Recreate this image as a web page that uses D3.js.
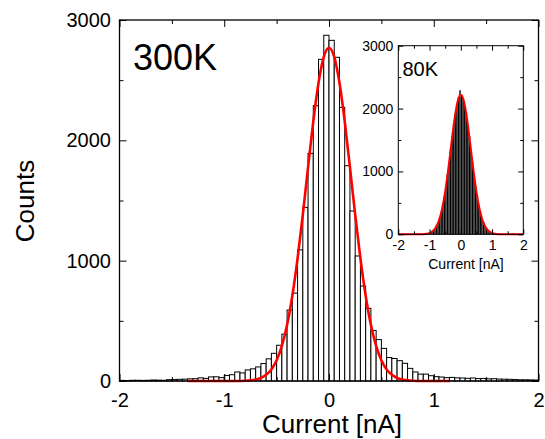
<!DOCTYPE html>
<html>
<head>
<meta charset="utf-8">
<script src="https://cdn.jsdelivr.net/npm/d3@7"></script>
<style>
  html, body { margin: 0; padding: 0; background: #fff; }
  svg { display: block; }
  text { font-family: "Liberation Sans", Arial, Helvetica, sans-serif; fill: #000; }
</style>
</head>
<body>
<div id="chart"></div>
<script>
// histogram bins, 0.05 nA wide, from -2 to 2 nA
const binStart = -2;
const binWidth = 0.05;

// 300K counts per bin
const counts300 = [
  5, 4, 6, 6, 5, 6, 8, 7, 6, 11,
  12, 14, 15, 18, 19, 26, 22, 34, 35, 28,
  46, 52, 75, 67, 92, 101, 117, 145, 184, 230,
  297, 389, 590, 730, 1090, 1443, 1892, 2288, 2673, 2873,
  2831, 2690, 2274, 1789, 1413, 1039, 789, 604, 420, 344,
  271, 195, 187, 169, 147, 105, 75, 57, 57, 44,
  36, 33, 28, 30, 26, 25, 22, 25, 20, 21,
  18, 19, 16, 15, 14, 12, 10, 10, 9, 8
];

// 80K counts per bin (inset)
const counts80 = [
  0, 1, 0, 1, 1, 0, 1, 2, 1, 2,
  2, 3, 3, 4, 5, 6, 7, 9, 12, 17,
  26, 40, 62, 92, 134, 188, 258, 352, 466, 600,
  765, 945, 1140, 1350, 1550, 1750, 1915, 2060, 2170, 2290,
  2200, 2155, 2050, 1925, 1740, 1555, 1340, 1135, 940, 760,
  600, 462, 348, 255, 184, 128, 88, 60, 39, 25,
  16, 10, 7, 5, 4, 3, 3, 2, 2, 1,
  1, 1, 0, 1, 0, 0, 1, 0, 0, 0
];

// red fit curves
const fit300X = [-1.35, -1.0, -0.9, -0.8, -0.75, -0.7, -0.65, -0.6, -0.55, -0.5, -0.45, -0.4, -0.35, -0.3, -0.25, -0.2, -0.15, -0.1, -0.05,
  0, 0.05, 0.1, 0.15, 0.2, 0.25, 0.3, 0.35, 0.4, 0.45, 0.5, 0.55, 0.6, 0.65, 0.7, 0.75, 0.8, 0.9, 1.0, 1.15];
const fit300Y = [0, 0, 0.3, 2, 5, 12, 25, 51, 96, 172, 291, 467, 709, 1018, 1382, 1775, 2157, 2478, 2694,
  2770, 2694, 2478, 2157, 1775, 1382, 1018, 709, 467, 291, 172, 96, 51, 25, 12, 5, 2, 0.3, 0, 0];

const fit80X = [-2, -1.6, -1.3, -1.2, -1.1, -1.0, -0.9, -0.8, -0.7, -0.6, -0.5, -0.4, -0.3, -0.2, -0.1,
  0, 0.1, 0.2, 0.3, 0.4, 0.5, 0.6, 0.7, 0.8, 0.9, 1.0, 1.1, 1.2, 1.3, 1.6, 2];
const fit80Y = [0, 0, 0, 2, 7, 19, 48, 107, 218, 403, 679, 1040, 1449, 1836, 2117,
  2220, 2117, 1836, 1449, 1040, 679, 403, 218, 107, 48, 19, 7, 2, 0, 0, 0];

const xMajor = [-2, -1, 0, 1, 2];
const xMinor = [-1.5, -0.5, 0.5, 1.5];
const yMajor = [0, 1000, 2000, 3000];
const yMinor = [500, 1500, 2500];

const width = 545, height = 439;
const svg = d3.select("#chart").append("svg")
  .attr("width", width).attr("height", height);

function drawPanel(g, opt) {
  const x = d3.scaleLinear().domain([-2, 2]).range([opt.left, opt.right]);
  const y = d3.scaleLinear().domain([0, 3000]).range([opt.bottom, opt.top]);

  g.append("rect")
    .attr("x", opt.left).attr("y", opt.top)
    .attr("width", opt.right - opt.left).attr("height", opt.bottom - opt.top)
    .attr("fill", "#fff");

  g.append("g").selectAll("rect")
    .data(opt.counts)
    .join("rect")
    .attr("x", (d, i) => x(binStart + i * binWidth))
    .attr("width", (d, i) => x(binStart + (i + 1) * binWidth) - x(binStart + i * binWidth))
    .attr("y", d => y(d))
    .attr("height", d => y(0) - y(d))
    .attr("fill", opt.barFill)
    .attr("stroke", opt.barStroke)
    .attr("stroke-width", opt.barStrokeWidth);

  const line = d3.line()
    .x(d => x(d[0])).y(d => y(d[1]))
    .curve(d3.curveMonotoneX);
  g.append("path")
    .datum(d3.zip(opt.fitX, opt.fitY))
    .attr("d", line)
    .attr("fill", "none")
    .attr("stroke", "#ff0000")
    .attr("stroke-width", opt.fitWidth);

  const fmt = d3.format("d");
  const axes = [
    [d3.axisBottom(x), xMajor, xMinor, `translate(0,${opt.bottom})`, true],
    [d3.axisTop(x), xMajor, xMinor, `translate(0,${opt.top})`, false],
    [d3.axisLeft(y), yMajor, yMinor, `translate(${opt.left},0)`, true],
    [d3.axisRight(y), yMajor, yMinor, `translate(${opt.right},0)`, false]
  ];
  axes.forEach(([ax, major, minor, tr, labels], k) => {
    const isX = k < 2;
    const a = g.append("g").attr("transform", tr)
      .call(ax.tickValues(major).tickSizeInner(-opt.major).tickSizeOuter(0)
        .tickPadding(isX ? opt.xPad : opt.yPad)
        .tickFormat(labels ? (isX ? d => String(d) : fmt) : ""));
    a.select(".domain").remove();
    a.selectAll("line").attr("stroke", "#000").attr("stroke-width", 1);
    a.selectAll("text").style("font-size", opt.tickFont + "px")
      .style("font-family", '"Liberation Sans", Arial, sans-serif');
    const m = g.append("g").attr("transform", tr)
      .call(ax.tickValues(minor).tickSizeInner(-opt.minor).tickFormat(""));
    m.select(".domain").remove();
    m.selectAll("line").attr("stroke", "#000").attr("stroke-width", 1);
  });

  g.append("rect")
    .attr("x", opt.left).attr("y", opt.top)
    .attr("width", opt.right - opt.left).attr("height", opt.bottom - opt.top)
    .attr("fill", "none").attr("stroke", "#000").attr("stroke-width", opt.frame);

  return { x, y };
}

// main 300K panel
drawPanel(svg.append("g"), {
  left: 119.5, right: 538.5, top: 20, bottom: 381,
  counts: counts300, barFill: "#fff", barStroke: "#000", barStrokeWidth: 1,
  fitX: fit300X, fitY: fit300Y, fitWidth: 2.6,
  major: 7, minor: 4, xPad: 12, yPad: 8.5, tickFont: 20, frame: 1.3
});

svg.append("text").attr("x", 133).attr("y", 70)
  .style("font-size", "36px").text("300K");
svg.append("text")
  .attr("transform", "translate(34,201) rotate(-90)")
  .attr("text-anchor", "middle")
  .style("font-size", "26px").text("Counts");
svg.append("text").attr("x", 332).attr("y", 433)
  .attr("text-anchor", "middle")
  .style("font-size", "26px").text("Current [nA]");

// inset 80K panel
drawPanel(svg.append("g"), {
  left: 398.3, right: 523.3, top: 45.7, bottom: 234.3,
  counts: counts80, barFill: "#000", barStroke: "#777", barStrokeWidth: 0.35,
  fitX: fit80X, fitY: fit80Y, fitWidth: 2,
  major: 5, minor: 3, xPad: 6, yPad: 5, tickFont: 14, frame: 1
});

svg.append("text").attr("x", 402.5).attr("y", 76)
  .style("font-size", "20px").text("80K");
svg.append("text").attr("x", 466).attr("y", 269)
  .attr("text-anchor", "middle")
  .style("font-size", "14px").text("Current [nA]");
</script>
</body>
</html>
